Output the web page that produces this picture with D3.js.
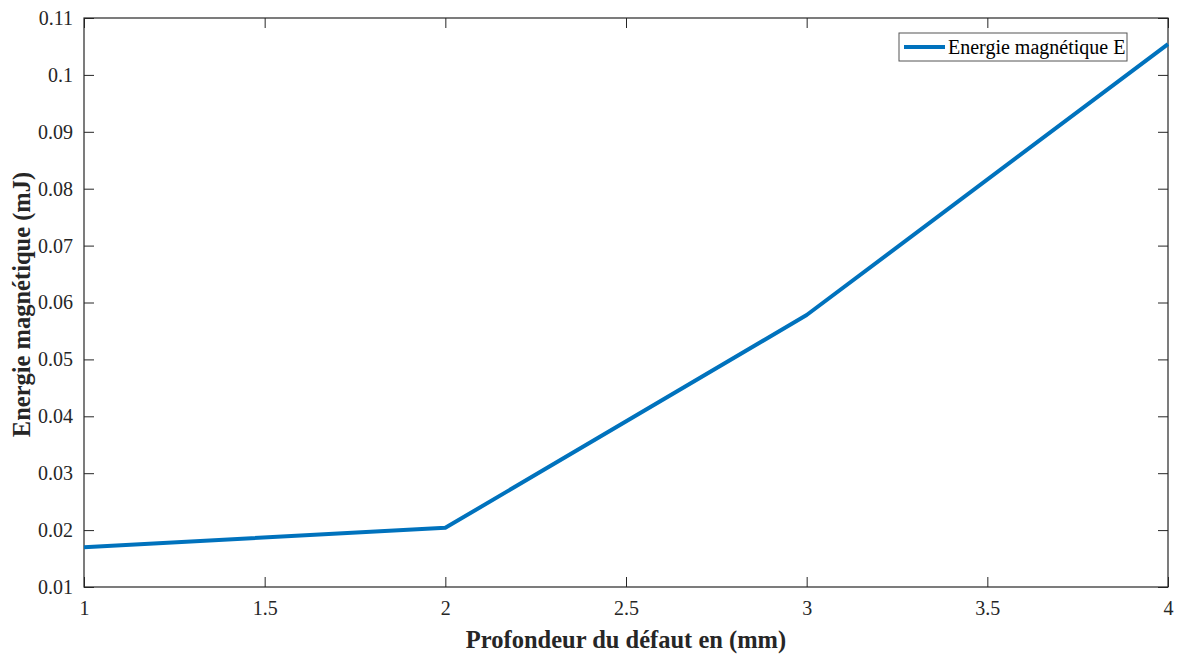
<!DOCTYPE html>
<html>
<head>
<meta charset="utf-8">
<script src="https://cdn.jsdelivr.net/npm/d3@7"></script>
<style>
  html, body { margin: 0; padding: 0; background: #fff; }
  svg { display: block; font-family: "Liberation Serif", "Times New Roman", serif; }
</style>
</head>
<body>
<svg id="chart" width="1179" height="657"></svg>
<script>
// Defect depth (mm) and magnetic energy (mJ)
const depths = [1, 2, 3, 4];
const energy = [0.0170, 0.0204, 0.0578, 0.1054];
const seriesName = "Energie magnétique E";
const xTicks = [1, 1.5, 2, 2.5, 3, 3.5, 4];
const yTicks = [0.01, 0.02, 0.03, 0.04, 0.05, 0.06, 0.07, 0.08, 0.09, 0.1, 0.11];
const xTitle = "Profondeur du défaut en (mm)";
const yTitle = "Energie magnétique (mJ)";

const svg = d3.select("#chart");
const m = { left: 84, right: 1168, top: 18, bottom: 587 };
const ink = "#262626";
const lineColor = "#0072BD";
const serif = "'Liberation Serif', 'Times New Roman', serif";

const x = d3.scaleLinear().domain([1, 4]).range([m.left, m.right]);
const y = d3.scaleLinear().domain([0.01, 0.11]).range([m.bottom, m.top]);
const tickLen = 10;

const fmt = d => d3.format("~g")(+d.toFixed(3));

function styleAxis(g, showLabels) {
  g.attr("font-family", serif);
  g.select(".domain").remove();
  g.selectAll(".tick line").attr("stroke", ink).attr("stroke-width", 1);
  g.selectAll(".tick text")
    .attr("fill", ink)
    .style("font-size", "20px")
    .style("font-family", serif);
  if (!showLabels) g.selectAll(".tick text").remove();
}

// bottom and top axes, ticks pointing inward
svg.append("g").attr("transform", `translate(0,${m.bottom})`)
  .call(d3.axisBottom(x).tickValues(xTicks).tickFormat(fmt).tickSizeInner(-tickLen).tickPadding(14))
  .call(g => styleAxis(g, true));
svg.append("g").attr("transform", `translate(0,${m.top})`)
  .call(d3.axisTop(x).tickValues(xTicks).tickSizeInner(-tickLen))
  .call(g => styleAxis(g, false));

// left and right axes
svg.append("g").attr("transform", `translate(${m.left},0)`)
  .call(d3.axisLeft(y).tickValues(yTicks).tickFormat(fmt).tickSizeInner(-tickLen).tickPadding(11))
  .call(g => styleAxis(g, true));
svg.append("g").attr("transform", `translate(${m.right},0)`)
  .call(d3.axisRight(y).tickValues(yTicks).tickSizeInner(-tickLen))
  .call(g => styleAxis(g, false));

// axes box
svg.append("rect")
  .attr("x", m.left).attr("y", m.top)
  .attr("width", m.right - m.left).attr("height", m.bottom - m.top)
  .attr("fill", "none").attr("stroke", ink).attr("stroke-width", 1.2);

// data line
const line = d3.line().x((d, i) => x(depths[i])).y(d => y(d));
svg.append("path")
  .datum(energy)
  .attr("d", line)
  .attr("fill", "none")
  .attr("stroke", lineColor)
  .attr("stroke-width", 4)
  .attr("stroke-linejoin", "round");

// axis titles
svg.append("text")
  .attr("x", (m.left + m.right) / 2).attr("y", 648)
  .attr("text-anchor", "middle")
  .attr("fill", ink)
  .style("font-family", serif)
  .style("font-size", "24.5px").style("font-weight", "bold")
  .text(xTitle);
svg.append("text")
  .attr("transform", `translate(30,${(m.top + m.bottom) / 2 + 2}) rotate(-90)`)
  .attr("text-anchor", "middle")
  .attr("fill", ink)
  .style("font-family", serif)
  .style("font-size", "24.5px").style("font-weight", "bold")
  .text(yTitle);

// legend
const lg = svg.append("g").attr("transform", "translate(899,33)");
lg.append("rect").attr("width", 228).attr("height", 28)
  .attr("fill", "#fff").attr("stroke", "#555").attr("stroke-width", 1);
lg.append("line").attr("x1", 5).attr("x2", 46).attr("y1", 14).attr("y2", 14)
  .attr("stroke", lineColor).attr("stroke-width", 4);
lg.append("text").attr("x", 49).attr("y", 21)
  .attr("fill", "#000")
  .style("font-family", serif)
  .style("font-size", "20px")
  .text(seriesName);
</script>
</body>
</html>
